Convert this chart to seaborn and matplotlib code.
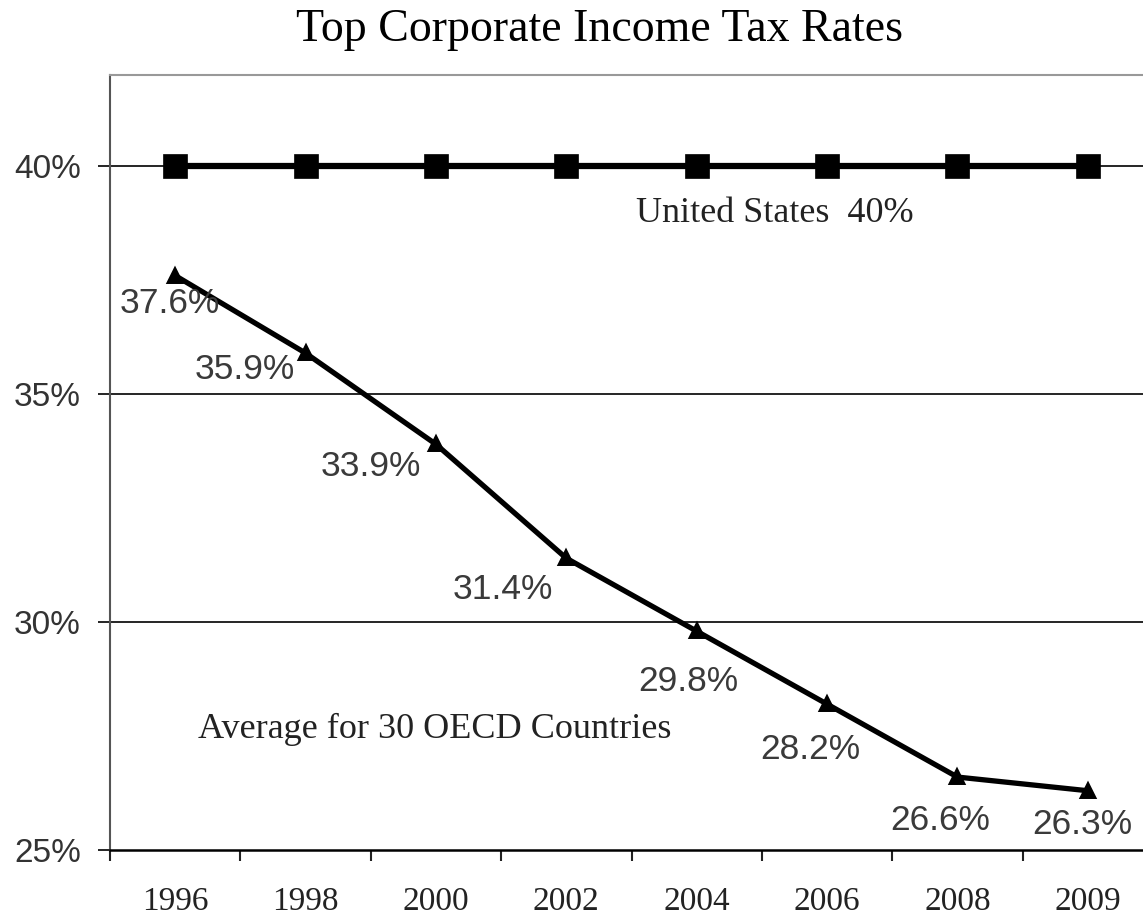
from matplotlib import pyplot as plt
from matplotlib.ticker import FixedLocator, NullFormatter
import pandas as pd
import seaborn as sns

# data
years = ["1996", "1998", "2000", "2002", "2004", "2006", "2008", "2009"]
us_rate = [40.0, 40.0, 40.0, 40.0, 40.0, 40.0, 40.0, 40.0]
oecd_rate = [37.6, 35.9, 33.9, 31.4, 29.8, 28.2, 26.6, 26.3]
oecd_labels = ["37.6%", "35.9%", "33.9%", "31.4%", "29.8%", "28.2%", "26.6%", "26.3%"]
# label offsets from each point, in pixels (dx, dy)
label_offsets = [(-5, -28), (-61, -16), (-65, -22), (-63, -31),
                 (-8, -50), (-17, -45), (-17, -43), (-5, -34)]

sns.set_theme(style="white")
plt.rcParams["font.family"] = ["Liberation Serif", "DejaVu Serif"]

df = pd.DataFrame({"year": years, "us": us_rate, "oecd": oecd_rate})

fig = plt.figure(figsize=(11.43, 9.24), dpi=100)
ax = fig.add_axes([110 / 1143, 74 / 924, 1043 / 1143, 775 / 924])

# gridlines under the lines
for y in [30, 35, 40]:
    ax.axhline(y, color="black", lw=1.2, zorder=1)

sns.pointplot(data=df, x="year", y="us", ax=ax, color="black",
              marker="s", markersize=15, linewidth=4.5)
sns.pointplot(data=df, x="year", y="oecd", ax=ax, color="black",
              marker="^", markersize=9, linewidth=3.8)

for i, (lab, (dx, dy)) in enumerate(zip(oecd_labels, label_offsets)):
    ax.annotate(lab, xy=(i, oecd_rate[i]), xytext=(dx, dy),
                textcoords="offset pixels", ha="center", va="center",
                fontsize=25.5, color="#3a3a3a",
                family=["Liberation Sans Narrow", "Liberation Sans", "DejaVu Sans"])

ax.text(4.6, 38.96, "United States  40%", ha="center", va="center",
        fontsize=26, color="#222222")
ax.text(1.99, 27.64, "Average for 30 OECD Countries", ha="center", va="center",
        fontsize=26, color="#222222")

ax.set_xlim(-0.5, len(years) - 0.5)
ax.set_ylim(25, 42)
ax.set_xlabel("")
ax.set_ylabel("")

# x: ticks between categories, labels at centres
ax.xaxis.set_major_locator(FixedLocator([i - 0.5 for i in range(len(years) + 1)]))
ax.xaxis.set_major_formatter(NullFormatter())
ax.xaxis.set_minor_locator(FixedLocator(list(range(len(years)))))
ax.set_xticklabels(years, minor=True)
ax.tick_params(axis="x", which="major", bottom=True, length=8, width=1.5,
               color="#222222", direction="out")
ax.tick_params(axis="x", which="minor", bottom=True, length=0, pad=26,
               labelsize=24, labelcolor="#222222")

ax.set_yticks([25, 30, 35, 40])
ax.set_yticklabels(["25%", "30%", "35%", "40%"],
                   family=["Liberation Sans Narrow", "Liberation Sans", "DejaVu Sans"])
ax.tick_params(axis="y", left=True, length=9, width=1.2, color="black",
               direction="out", pad=12, labelsize=24, labelcolor="#333333")

ax.spines["top"].set_color("#999999")
ax.spines["top"].set_linewidth(1.5)
ax.spines["left"].set_color("#555555")
ax.spines["left"].set_linewidth(1.5)
ax.spines["bottom"].set_color("black")
ax.spines["bottom"].set_linewidth(1.8)
ax.spines["right"].set_visible(False)

fig.text(600 / 1143, 1 - 30 / 924, "Top Corporate Income Tax Rates",
         ha="center", va="center", fontsize=33, color="black")

fig.savefig("out.png", dpi=100, facecolor="white")
